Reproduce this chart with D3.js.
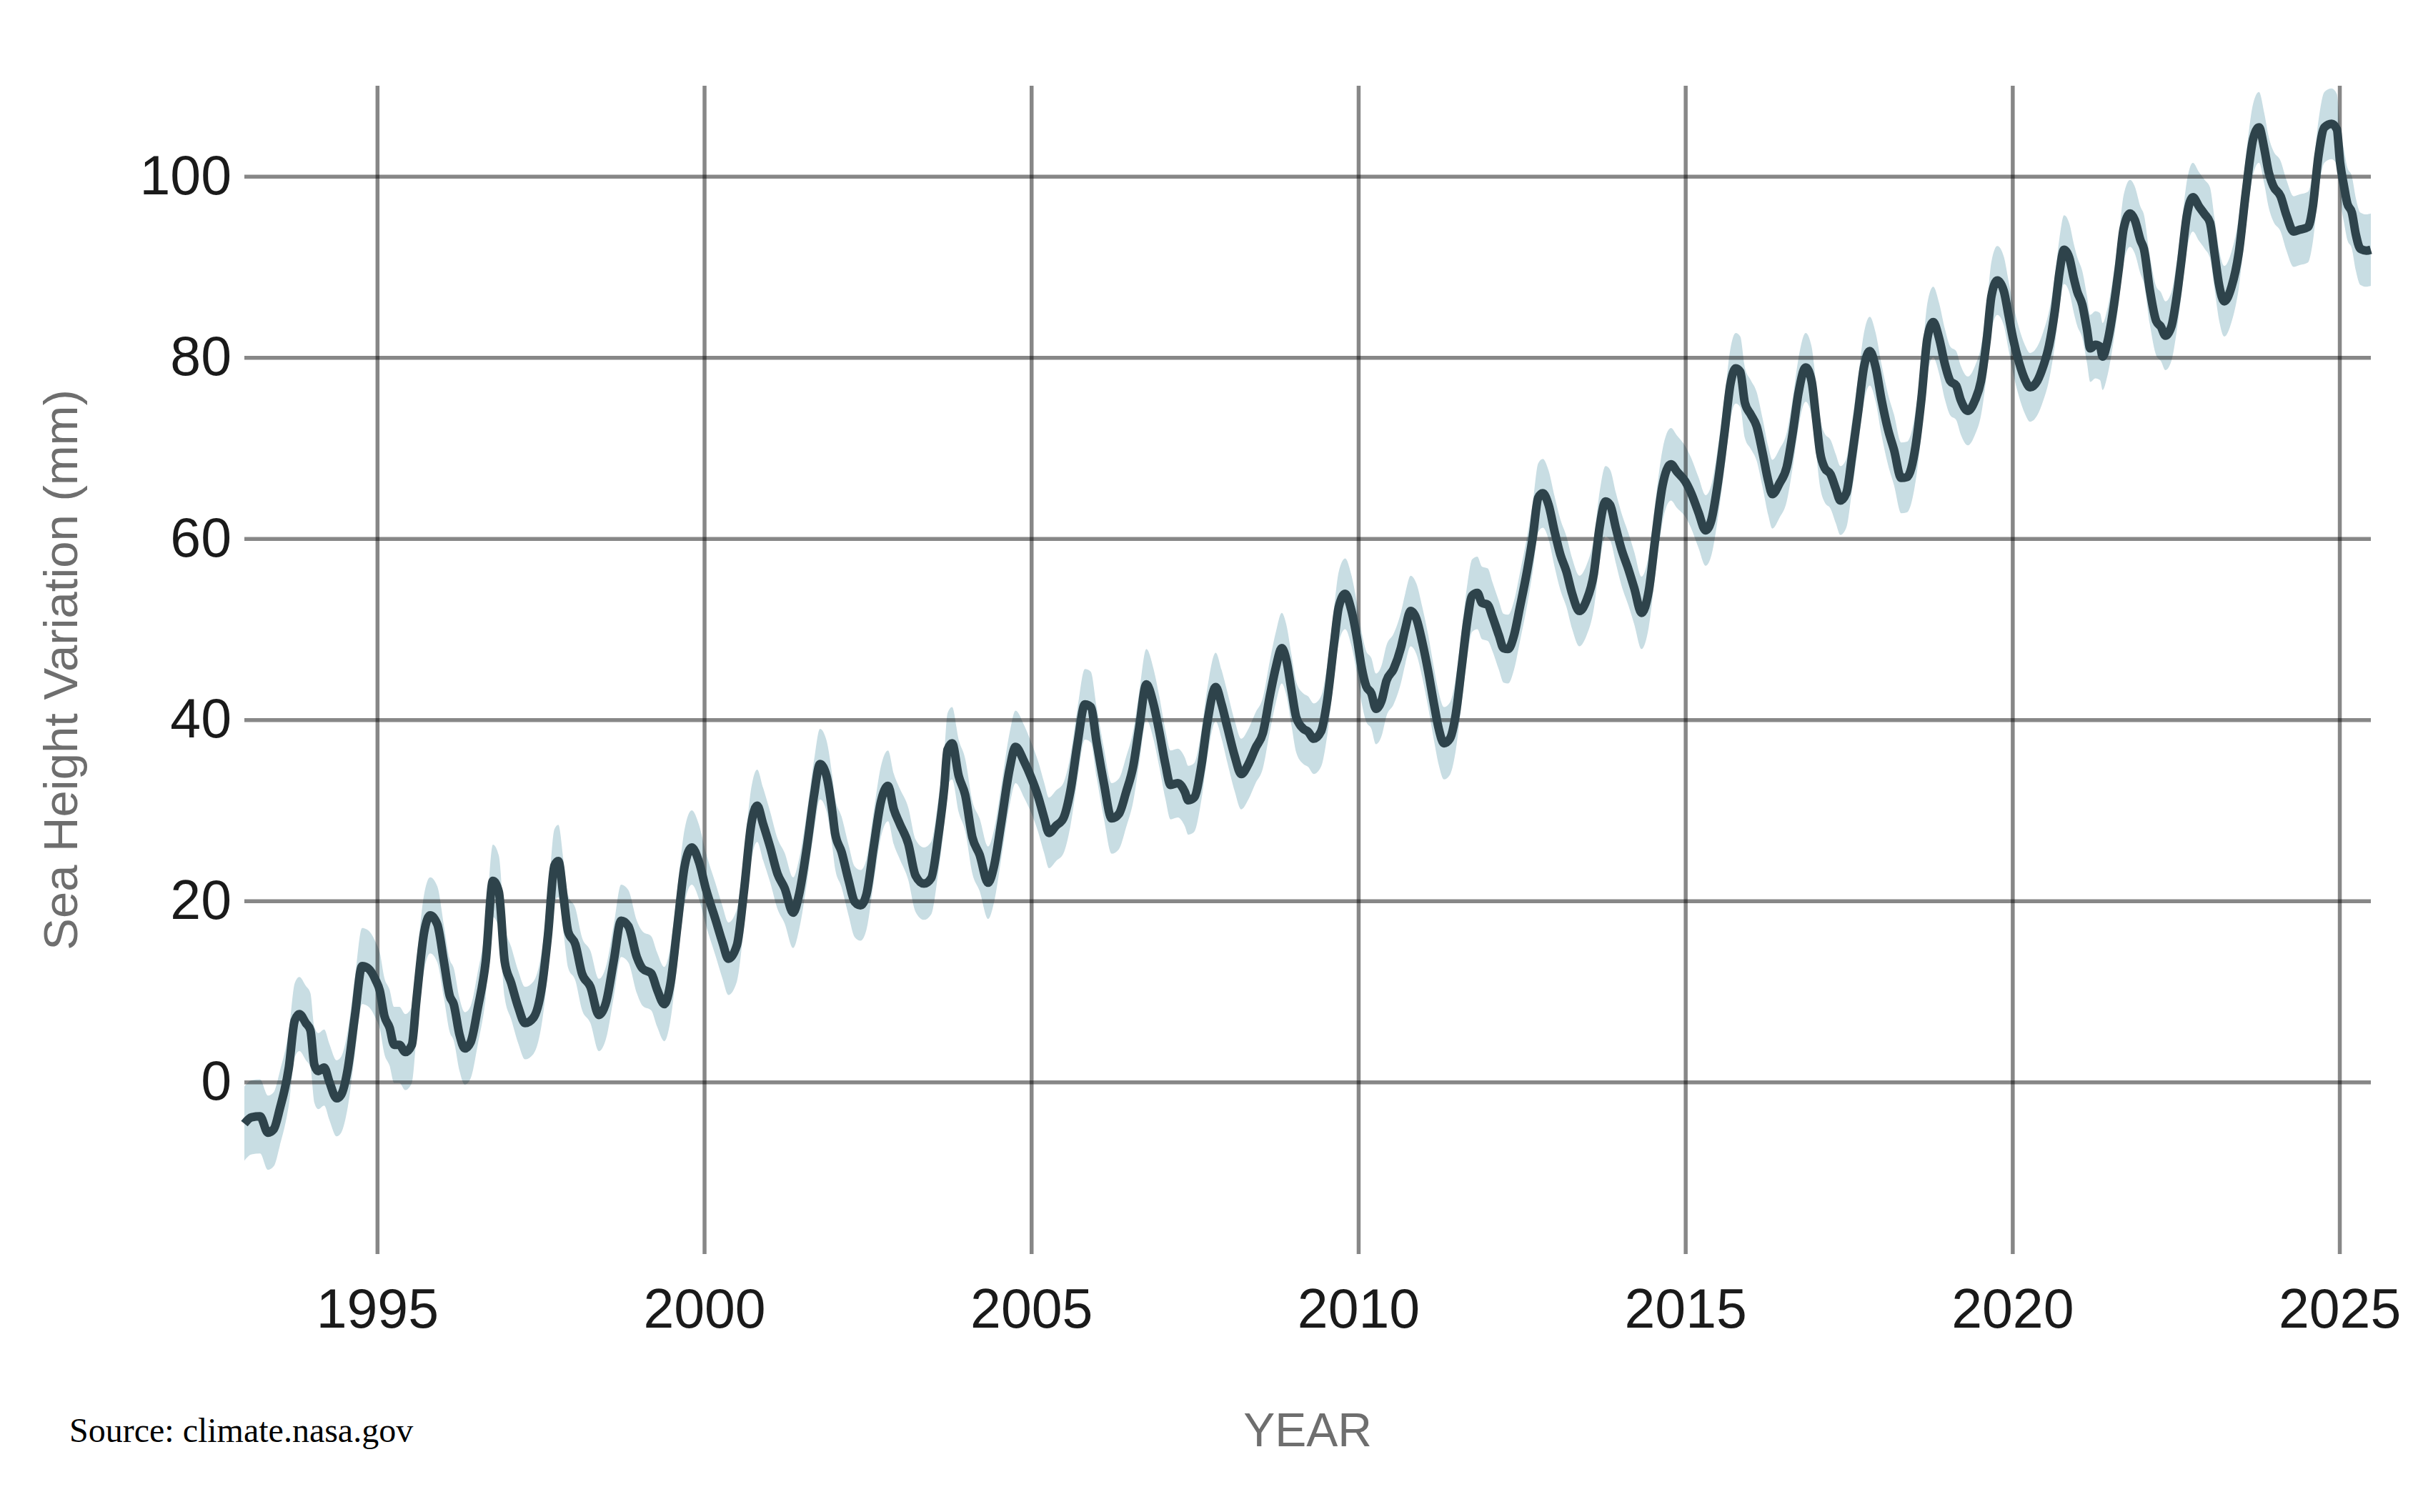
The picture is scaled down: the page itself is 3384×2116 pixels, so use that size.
<!DOCTYPE html>
<html lang="en">
<head>
    <meta charset="UTF-8">
    <title>Sea Height Variation</title>
    <script src="https://d3js.org/d3.v7.min.js"></script>
    <style>
        body {
            margin: 0;
            background: #fff;
        }
        svg {
            display: block;
        }
        .tick text {
            font-family: "Liberation Sans", Arial, Helvetica, sans-serif;
            font-size: 77px;
            fill: #1a1a1a;
        }
        .grid line {
            stroke: #000;
            stroke-opacity: 0.47;
            stroke-width: 5.5;
        }
        .axis-title {
            font-family: "Liberation Sans", Arial, Helvetica, sans-serif;
            fill: #6e6e6e;
        }
        .source {
            font-family: "Liberation Serif", "Times New Roman", serif;
            font-size: 48px;
            fill: #000;
        }
    </style>
</head>
<body>
    <svg id="chart"></svg>
    <script>
        // satellite sea level, decimal year and mm
        const years = [
            1992.97, 1993.08, 1993.21, 1993.33, 1993.42, 1993.51, 1993.65, 1993.74, 1993.81, 1993.91,
            1993.98, 1994.04, 1994.10, 1994.19, 1994.27, 1994.38, 1994.45, 1994.55, 1994.66, 1994.77,
            1994.87, 1994.98, 1995.04, 1995.11, 1995.19, 1995.26, 1995.34, 1995.43, 1995.53, 1995.60,
            1995.72, 1995.81, 1995.92, 1996.02, 1996.11, 1996.17, 1996.26, 1996.34, 1996.43, 1996.54,
            1996.66, 1996.77, 1996.86, 1996.95, 1997.05, 1997.16, 1997.26, 1997.39, 1997.52, 1997.61,
            1997.71, 1997.77, 1997.85, 1997.92, 1998.03, 1998.13, 1998.26, 1998.39, 1998.50, 1998.62,
            1998.73, 1998.84, 1998.97, 1999.06, 1999.19, 1999.28, 1999.39, 1999.48, 1999.59, 1999.70,
            1999.81, 1999.92, 2000.03, 2000.17, 2000.28, 2000.37, 2000.50, 2000.61, 2000.72, 2000.81,
            2000.90, 2001.01, 2001.12, 2001.23, 2001.36, 2001.45, 2001.57, 2001.68, 2001.77, 2001.87,
            2001.96, 2002.00, 2002.10, 2002.21, 2002.30, 2002.39, 2002.48, 2002.59, 2002.70, 2002.81,
            2002.90, 2002.99, 2003.12, 2003.23, 2003.36, 2003.47, 2003.58, 2003.67, 2003.72, 2003.79,
            2003.89, 2003.99, 2004.10, 2004.21, 2004.34, 2004.43, 2004.54, 2004.67, 2004.76, 2004.89,
            2005.00, 2005.11, 2005.20, 2005.27, 2005.38, 2005.49, 2005.60, 2005.71, 2005.82, 2005.91,
            2006.00, 2006.11, 2006.23, 2006.34, 2006.45, 2006.56, 2006.65, 2006.76, 2006.87, 2006.96,
            2007.05, 2007.13, 2007.24, 2007.35, 2007.40, 2007.49, 2007.60, 2007.69, 2007.82, 2007.91,
            2008.00, 2008.11, 2008.21, 2008.32, 2008.43, 2008.54, 2008.65, 2008.74, 2008.83, 2008.90,
            2008.98, 2009.05, 2009.16, 2009.23, 2009.32, 2009.43, 2009.52, 2009.63, 2009.70, 2009.80,
            2009.89, 2009.98, 2010.05, 2010.12, 2010.20, 2010.27, 2010.36, 2010.43, 2010.54, 2010.65,
            2010.72, 2010.80, 2010.89, 2010.98, 2011.07, 2011.16, 2011.23, 2011.31, 2011.40, 2011.49,
            2011.58, 2011.67, 2011.74, 2011.82, 2011.89, 2011.98, 2012.05, 2012.15, 2012.22, 2012.29,
            2012.38, 2012.47, 2012.58, 2012.67, 2012.75, 2012.82, 2012.91, 2013.00, 2013.09, 2013.18,
            2013.27, 2013.38, 2013.49, 2013.60, 2013.69, 2013.78, 2013.85, 2013.94, 2014.02, 2014.13,
            2014.22, 2014.33, 2014.44, 2014.54, 2014.65, 2014.78, 2014.87, 2015.00, 2015.09, 2015.20,
            2015.31, 2015.40, 2015.49, 2015.60, 2015.69, 2015.77, 2015.84, 2015.91, 2016.00, 2016.09,
            2016.18, 2016.27, 2016.33, 2016.44, 2016.55, 2016.64, 2016.73, 2016.84, 2016.93, 2017.00,
            2017.06, 2017.13, 2017.22, 2017.30, 2017.37, 2017.46, 2017.55, 2017.64, 2017.73, 2017.82,
            2017.91, 2018.00, 2018.10, 2018.19, 2018.30, 2018.39, 2018.52, 2018.61, 2018.70, 2018.79,
            2018.88, 2018.97, 2019.05, 2019.14, 2019.21, 2019.32, 2019.43, 2019.52, 2019.61, 2019.68,
            2019.77, 2019.87, 2019.94, 2020.01, 2020.10, 2020.19, 2020.27, 2020.38, 2020.47, 2020.56,
            2020.65, 2020.72, 2020.79, 2020.87, 2020.94, 2020.99, 2021.07, 2021.14, 2021.19, 2021.27,
            2021.34, 2021.38, 2021.45, 2021.54, 2021.63, 2021.70, 2021.80, 2021.87, 2021.96, 2022.01,
            2022.10, 2022.20, 2022.27, 2022.34, 2022.43, 2022.51, 2022.58, 2022.67, 2022.76, 2022.85,
            2022.94, 2023.02, 2023.09, 2023.16, 2023.24, 2023.35, 2023.46, 2023.57, 2023.68, 2023.77,
            2023.85, 2023.92, 2023.99, 2024.10, 2024.19, 2024.30, 2024.39, 2024.52, 2024.59, 2024.68,
            2024.77, 2024.88, 2024.96, 2025.01, 2025.07, 2025.12, 2025.19, 2025.25, 2025.32, 2025.41,
            2025.48
        ];
        const gmsl = [
            -4.6, -3.9, -3.8, -5.6, -5.2, -3.0, 1.6, 6.8, 7.5, 6.5,
            5.7, 1.9, 1.2, 1.6, 0.0, -1.8, -1.4, 1.4, 7.3, 12.8,
            12.5, 11.2, 10.1, 7.3, 6.0, 4.1, 4.1, 3.3, 4.1, 9.0,
            16.6, 18.4, 17.4, 13.3, 9.5, 8.6, 5.2, 3.7, 4.4, 8.2,
            13.3, 22.2, 21.0, 13.3, 10.9, 8.2, 6.5, 7.1, 10.6, 16.1,
            23.9, 24.4, 20.4, 16.6, 15.2, 12.0, 10.5, 7.4, 8.8, 13.5,
            17.8, 17.2, 13.8, 12.5, 12.0, 10.2, 8.6, 10.7, 17.2, 23.8,
            25.9, 24.3, 21.2, 18.0, 15.4, 13.6, 15.1, 21.2, 28.5, 30.5,
            28.5, 25.9, 23.0, 21.4, 18.7, 20.7, 25.9, 31.7, 35.1, 33.8,
            29.8, 27.5, 25.4, 22.2, 19.9, 19.5, 20.7, 25.9, 30.9, 32.7,
            30.1, 28.5, 26.3, 22.8, 21.9, 22.5, 27.2, 32.5, 36.7, 37.4,
            33.8, 31.7, 27.0, 25.1, 22.0, 23.8, 28.6, 34.6, 37.0, 35.4,
            33.6, 31.4, 29.1, 27.5, 28.3, 29.1, 32.2, 37.5, 41.7, 41.4,
            37.5, 33.0, 29.1, 29.6, 32.0, 34.9, 39.1, 43.9, 41.7, 38.6,
            35.1, 32.8, 33.0, 32.0, 31.1, 31.4, 34.9, 39.6, 43.6, 41.7,
            39.1, 36.0, 34.0, 35.1, 36.9, 38.5, 42.7, 45.8, 47.9, 46.6,
            43.2, 40.3, 39.0, 38.7, 37.9, 38.7, 41.9, 48.5, 52.4, 53.9,
            52.2, 49.0, 45.8, 43.7, 42.9, 41.2, 42.2, 44.3, 45.6, 47.9,
            50.1, 52.0, 51.1, 48.5, 45.3, 41.6, 39.0, 37.4, 37.9, 40.6,
            45.8, 51.1, 53.7, 54.0, 52.9, 52.7, 51.4, 49.3, 47.9, 47.8,
            49.3, 52.4, 56.4, 60.3, 64.5, 65.0, 63.7, 60.8, 58.2, 56.4,
            53.9, 52.0, 53.2, 56.1, 61.3, 64.1, 63.7, 61.1, 58.9, 56.6,
            54.5, 51.8, 54.2, 60.0, 65.8, 68.2, 67.4, 66.3, 65.0, 62.9,
            60.9, 62.1, 65.8, 71.8, 77.1, 78.8, 78.4, 75.0, 73.7, 72.4,
            69.5, 66.3, 64.9, 66.1, 67.9, 71.6, 76.1, 78.9, 77.4, 73.2,
            69.5, 67.8, 67.1, 65.5, 64.2, 65.0, 69.2, 73.9, 78.9, 80.7,
            78.9, 75.3, 72.0, 69.8, 66.7, 66.8, 70.2, 75.5, 82.1, 83.9,
            82.1, 79.2, 77.4, 76.9, 75.3, 74.1, 75.3, 77.4, 82.1, 86.8,
            88.5, 87.3, 84.7, 82.1, 79.5, 77.6, 76.7, 77.4, 79.0, 81.3,
            85.2, 89.4, 91.9, 91.0, 88.7, 87.3, 85.8, 83.1, 81.0, 81.4,
            81.2, 80.1, 81.6, 85.2, 90.0, 94.2, 95.9, 95.2, 92.9, 92.0,
            87.5, 84.0, 83.4, 82.4, 83.4, 86.6, 90.5, 95.8, 97.7, 96.7,
            95.8, 94.9, 91.5, 88.0, 86.2, 87.8, 91.5, 98.3, 104.1, 105.4,
            103.1, 100.4, 98.9, 97.8, 95.7, 93.9, 94.1, 94.4, 96.5, 102.3,
            105.4, 105.8, 105.2, 101.5, 98.9, 97.0, 96.0, 93.6, 92.0, 91.8,
            91.9
        ];
        // half width of the shaded uncertainty band (mm), one value per calendar year
        const bandYears = [
            1992, 1993, 1994, 1995, 1996, 1997, 1998, 1999, 2000, 2001, 2002, 2003,
            2004, 2005, 2006, 2007, 2008, 2009, 2010, 2011, 2012, 2013, 2014, 2015,
            2016, 2017, 2018, 2019, 2020, 2021, 2022, 2023, 2024, 2025
        ];
        const bandHalf = [
            4.1, 4.1, 4.2, 4.2, 4.0, 4.0, 4.0, 4.1, 4.0, 3.9, 3.9, 4.0,
            4.0, 3.9, 3.9, 3.8, 3.9, 3.9, 3.9, 4.0, 3.8, 3.9, 4.0, 3.9,
            3.8, 3.8, 3.9, 3.8, 3.8, 3.7, 3.8, 3.9, 3.9, 4.0
        ];
        const yTicks = [0, 20, 40, 60, 80, 100];
        const xTicks = [1995, 2000, 2005, 2010, 2015, 2020, 2025];

        const width = 3384, height = 2116;
        const margin = { top: 120, right: 66, bottom: 361, left: 342 };
        const plotW = width - margin.left - margin.right;
        const plotH = height - margin.top - margin.bottom;

        const data = years.map((yr, i) => ({
            year: yr,
            value: gmsl[i],
            half: bandHalf[bandYears.indexOf(Math.floor(yr))]
        }));

        const svg = d3.select("#chart")
            .attr("width", width)
            .attr("height", height);

        const chart = svg.append("g")
            .attr("transform", `translate(${margin.left},${margin.top})`);

        const x = d3.scaleLinear()
            .domain(d3.extent(years))
            .range([0, plotW]);

        const y = d3.scaleLinear()
            .domain([-19, 110])
            .range([plotH, 0]);

        // uncertainty band
        chart.append("path")
            .datum(data)
            .attr("fill", "#c8dde3")
            .attr("d", d3.area()
                .curve(d3.curveMonotoneX)
                .x(d => x(d.year))
                .y0(d => y(d.value - d.half))
                .y1(d => y(d.value + d.half)));

        // grid + axes
        const xAxis = chart.append("g")
            .attr("class", "grid")
            .attr("transform", `translate(0,${plotH})`)
            .call(d3.axisBottom(x)
                .tickValues(xTicks)
                .tickFormat(d3.format("d"))
                .tickSize(-plotH)
                .tickPadding(48));
        xAxis.select(".domain").remove();
        xAxis.selectAll("text").attr("font-family", null).attr("font-size", null);

        const yAxis = chart.append("g")
            .attr("class", "grid")
            .call(d3.axisLeft(y)
                .tickValues(yTicks)
                .tickSize(-plotW)
                .tickPadding(18));
        yAxis.select(".domain").remove();
        yAxis.selectAll("text").attr("font-family", null).attr("font-size", null);

        // main series
        chart.append("path")
            .datum(data)
            .attr("fill", "none")
            .attr("stroke", "#2e434b")
            .attr("stroke-width", 12)
            .attr("stroke-linejoin", "round")
            .attr("d", d3.line()
                .curve(d3.curveMonotoneX)
                .x(d => x(d.year))
                .y(d => y(d.value)));

        // labels
        svg.append("text")
            .attr("class", "axis-title")
            .attr("transform", `translate(85,${margin.top + plotH / 2}) rotate(-90)`)
            .attr("text-anchor", "middle")
            .attr("dy", "0.35em")
            .attr("font-size", 67)
            .text("Sea Height Variation (mm)");

        svg.append("text")
            .attr("class", "axis-title")
            .attr("x", margin.left + plotW / 2)
            .attr("y", 2024)
            .attr("text-anchor", "middle")
            .attr("font-size", 66)
            .text("YEAR");

        svg.append("text")
            .attr("class", "source")
            .attr("x", 97)
            .attr("y", 2018)
            .text("Source: climate.nasa.gov");
    </script>
</body>
</html>
